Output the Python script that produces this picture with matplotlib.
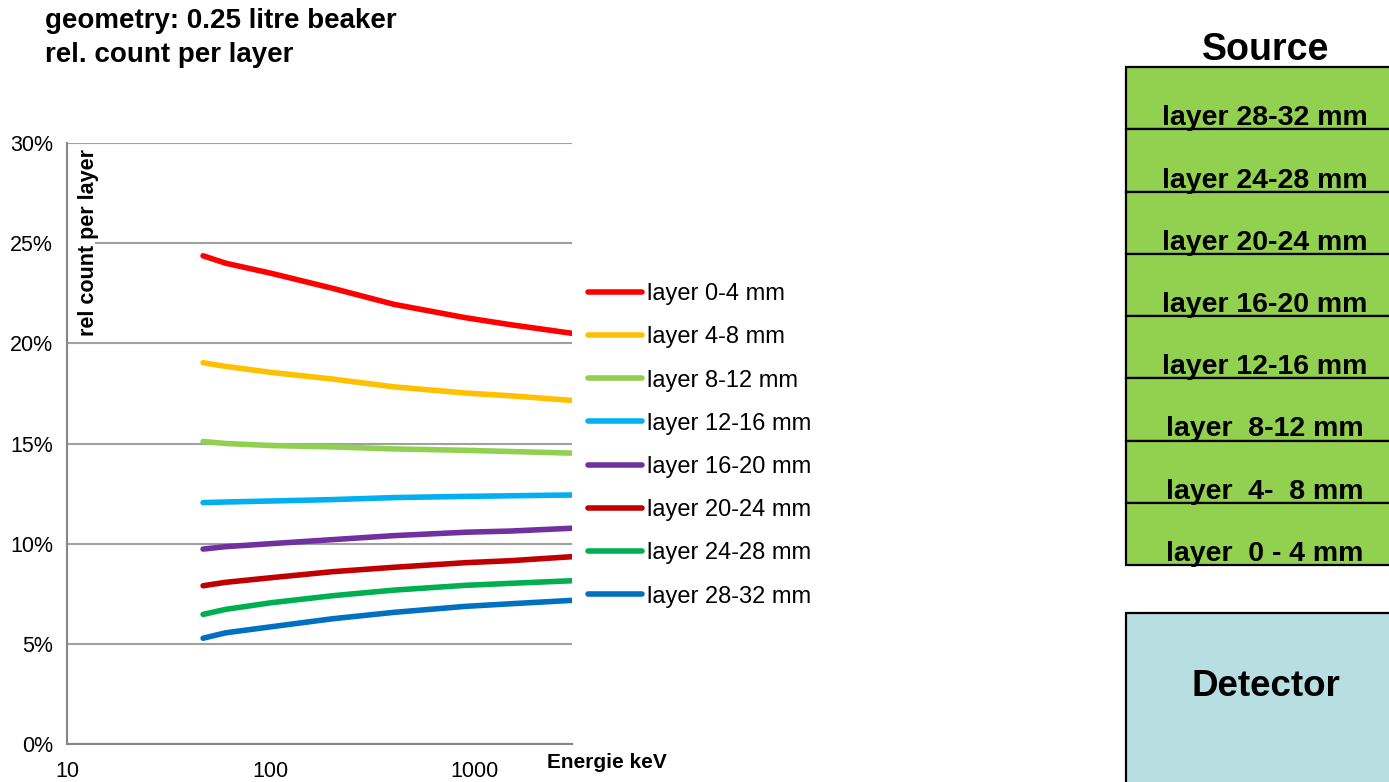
import matplotlib
matplotlib.use("Agg")
import matplotlib.pyplot as plt
from matplotlib.patches import Rectangle

plt.rcParams['font.family'] = ['Liberation Sans', 'DejaVu Sans']

# energies (keV) and relative count per layer (%)
energy_kev = [46.5, 60, 100, 200, 400, 900, 1500, 3000]
layer_0_4 = [24.37, 24.0, 23.5, 22.75, 21.95, 21.28, 20.93, 20.5]
layer_4_8 = [19.03, 18.85, 18.55, 18.22, 17.83, 17.52, 17.38, 17.15]
layer_8_12 = [15.1, 15.0, 14.9, 14.83, 14.73, 14.66, 14.6, 14.52]
layer_12_16 = [12.05, 12.08, 12.13, 12.2, 12.3, 12.36, 12.39, 12.43]
layer_16_20 = [9.73, 9.85, 10.0, 10.2, 10.4, 10.57, 10.63, 10.77]
layer_20_24 = [7.9, 8.07, 8.3, 8.6, 8.82, 9.05, 9.15, 9.35]
layer_24_28 = [6.47, 6.72, 7.05, 7.4, 7.68, 7.92, 8.02, 8.15]
layer_28_32 = [5.28, 5.55, 5.85, 6.25, 6.57, 6.87, 7.0, 7.17]

series = [layer_0_4, layer_4_8, layer_8_12, layer_12_16,
          layer_16_20, layer_20_24, layer_24_28, layer_28_32]
labels = ['layer 0-4 mm', 'layer 4-8 mm', 'layer 8-12 mm', 'layer 12-16 mm',
          'layer 16-20 mm', 'layer 20-24 mm', 'layer 24-28 mm', 'layer 28-32 mm']
colors = ['#FF0000', '#FFC000', '#92D050', '#00B0F0',
          '#7030A0', '#C00000', '#00B050', '#0070C0']

y_ticks = [0, 5, 10, 15, 20, 25, 30]
x_ticks = [10, 100, 1000]

# sketch on the right: source layers (top to bottom) and detector
box_labels = ['layer 28-32 mm', 'layer 24-28 mm', 'layer 20-24 mm', 'layer 16-20 mm',
              'layer 12-16 mm', 'layer  8-12 mm', 'layer  4-  8 mm', 'layer  0 - 4 mm']

W, H = 1389, 782
fig = plt.figure(figsize=(W / 100, H / 100), dpi=100)

ax = fig.add_axes([67 / W, 1 - 744 / H, (572 - 67) / W, (744 - 143) / H])
for vals, lab, col in zip(series, labels, colors):
    ax.plot(energy_kev, vals, color=col, lw=4.0, label=lab, solid_capstyle='round',
            solid_joinstyle='round', zorder=3)

ax.set_xscale('log')
ax.set_xlim(10, 3000)
ax.set_ylim(0, 30)
ax.set_xticks(x_ticks)
ax.set_xticklabels([str(t) for t in x_ticks])
ax.minorticks_off()
ax.set_yticks(y_ticks)
ax.set_yticklabels([f'{t}%' for t in y_ticks])
ax.tick_params(axis='both', length=0, labelsize=15.5)
ax.tick_params(axis='x', pad=12)
ax.tick_params(axis='y', pad=10)
ax.set_axisbelow(True)
ax.yaxis.grid(True, color='#A0A0A0', lw=1.5)
for s in ['top', 'right']:
    ax.spines[s].set_visible(False)
for s in ['left', 'bottom']:
    ax.spines[s].set_color('#868686')
    ax.spines[s].set_linewidth(1.5)

# axis title box inside the plot (covers gridlines)
ax.add_patch(Rectangle((0, 0.67), 0.055, 0.32, transform=ax.transAxes,
                       facecolor='white', edgecolor='none', zorder=1))
ax.text(0.043, 0.99, 'rel count per layer', transform=ax.transAxes, rotation=90,
        ha='center', va='top', fontsize=15.5, fontweight='bold', zorder=2)

fig.text(607 / W, 1 - 762 / H, 'Energie keV', ha='center', va='center',
         fontsize=15, fontweight='bold')

fig.text(45 / W, 1 - 8 / H, 'geometry: 0.25 litre beaker\nrel. count per layer',
         ha='left', va='top', fontsize=20, fontweight='bold', linespacing=1.38)

fig.legend(loc='upper left', bbox_to_anchor=(588 / W, 1 - 283 / H), frameon=False,
           fontsize=17, handlelength=2.3, handletextpad=0.2, labelspacing=0.9,
           borderpad=0, borderaxespad=0)

# right-hand sketch
sk = fig.add_axes([0, 0, 1, 1])
sk.set_xlim(0, W)
sk.set_ylim(H, 0)
sk.axis('off')
top, bottom, left = 67, 565, 1126
cell = (bottom - top) / len(box_labels)
for i, lab in enumerate(box_labels):
    y0 = top + i * cell
    sk.add_patch(Rectangle((left, y0), W - left + 5, cell, facecolor='#92D050',
                           edgecolor='black', lw=1.6))
    sk.text(1265, y0 + cell - 11, lab, ha='center', va='center',
            fontsize=20.5, fontweight='bold')
sk.text(1266, 50, 'Source', ha='center', va='center', fontsize=27, fontweight='bold')
sk.add_patch(Rectangle((left, 613), W - left + 5, 200, facecolor='#B7DEE1',
                       edgecolor='black', lw=1.6))
sk.text(1266, 687, 'Detector', ha='center', va='center', fontsize=26.5, fontweight='bold')

fig.savefig('out.png', dpi=100)
